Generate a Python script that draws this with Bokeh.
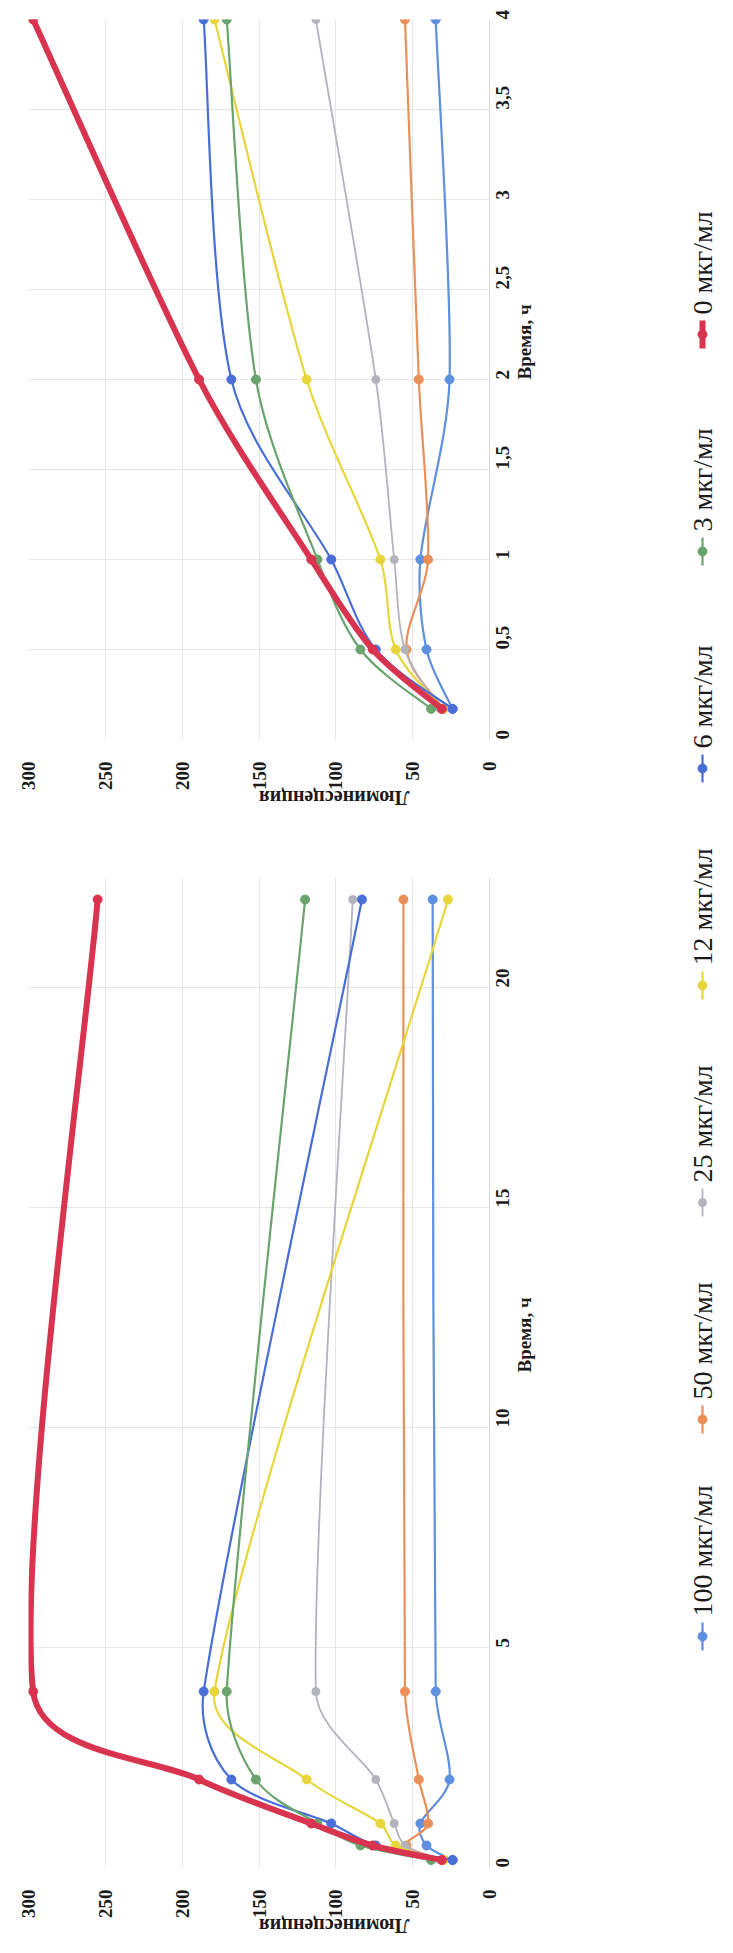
import math

from bokeh.core.properties import value
from bokeh.embed import file_html
from bokeh.layouts import column, row
from bokeh.models import ColumnDataSource, CustomJSTickFormatter, FixedTicker, Range1d
from bokeh.plotting import figure
from bokeh.resources import INLINE

# Sampling times, h
times = [0.17, 0.5, 1, 2, 4, 22]

# Luminescence for each drug concentration
lum_0 = [31, 76, 116, 189, 297, 255]
lum_3 = [38, 84, 112, 152, 171, 120]
lum_6 = [24, 74, 103, 168, 186, 83]
lum_12 = [30, 61, 71, 119, 179, 27]
lum_25 = [32, 55, 62, 74, 113, 89]
lum_50 = [30, 54, 40, 46, 55, 56]
lum_100 = [24, 41, 45, 26, 35, 37]

series_names = ["100 мкг/мл", "50 мкг/мл", "25 мкг/мл", "12 мкг/мл",
                "6 мкг/мл", "3 мкг/мл", "0 мкг/мл"]
series_values = [lum_100, lum_50, lum_25, lum_12, lum_6, lum_3, lum_0]

lum_ticks = [0, 50, 100, 150, 200, 250, 300]
time_ticks_short = [0, 0.5, 1, 1.5, 2, 2.5, 3, 3.5, 4]
time_ticks_long = [0, 5, 10, 15, 20]

# Styling
colors = ["#5e8fe0", "#ea8f57", "#b3b3bb", "#e6d63c", "#4a6ed8", "#6aa46d", "#d8334f"]
widths = [2.2, 2.2, 1.8, 2.2, 2.2, 2.2, 6.0]
marker_sizes = [9, 9, 8, 9, 9, 9, 9]
SERIF = "Liberation Serif"
INK = "#1b1b1b"
GRID = "#e6e6e6"
LUM_MAX = 300
CHART_W = 600
BORDER_L = 28
BORDER_R = 111


def bezier_segments(pts, kx, ky):
    """Smooth curve through pts as cubic Bezier pieces (Catmull-Rom handles,
    each handle kept within a third of its neighbouring chord on screen)."""
    n = len(pts)

    def plen(dx, dy):
        return math.hypot(dx * kx, dy * ky)

    def handle(i, j, tx, ty):
        # handle at point i pointing toward neighbour j
        hx, hy = tx / 6, ty / 6
        chord = plen(pts[j][0] - pts[i][0], pts[j][1] - pts[i][1])
        h = plen(hx, hy)
        if h > chord / 3 and h > 0:
            f = chord / 3 / h
            hx, hy = hx * f, hy * f
        return hx, hy

    c_in = [None] * n
    c_out = [None] * n
    for i in range(n):
        if i == 0:
            tx, ty = pts[1][0] - pts[0][0], pts[1][1] - pts[0][1]
        elif i == n - 1:
            tx, ty = pts[i][0] - pts[i - 1][0], pts[i][1] - pts[i - 1][1]
        else:
            tx, ty = pts[i + 1][0] - pts[i - 1][0], pts[i + 1][1] - pts[i - 1][1]
        if i < n - 1:
            hx, hy = handle(i, i + 1, tx, ty)
            c_out[i] = (pts[i][0] + hx, pts[i][1] + hy)
        if i > 0:
            hx, hy = handle(i, i - 1, tx, ty)
            c_in[i] = (pts[i][0] - hx, pts[i][1] - hy)
    seg = dict(x0=[], y0=[], x1=[], y1=[], cx0=[], cy0=[], cx1=[], cy1=[])
    for i in range(n - 1):
        seg["x0"].append(pts[i][0]); seg["y0"].append(pts[i][1])
        seg["x1"].append(pts[i + 1][0]); seg["y1"].append(pts[i + 1][1])
        seg["cx0"].append(c_out[i][0]); seg["cy0"].append(c_out[i][1])
        seg["cx1"].append(c_in[i + 1][0]); seg["cy1"].append(c_in[i + 1][1])
    return seg


def style_axis(ax, standoff):
    ax.major_label_orientation = math.pi / 2
    ax.major_tick_out = 0
    ax.major_tick_in = 0
    ax.minor_tick_out = 0
    ax.minor_tick_in = 0
    ax.major_label_standoff = standoff
    ax.major_label_text_font = SERIF
    ax.major_label_text_font_style = "bold"
    ax.major_label_text_font_size = "19px"
    ax.major_label_text_color = INK
    ax.axis_label_text_font = SERIF
    ax.axis_label_text_font_style = "bold"
    ax.axis_label_text_color = INK


def make_chart(height, border_top, border_bottom, t_end, t_ticks, t_limit):
    frame_w = CHART_W - BORDER_L - BORDER_R
    frame_h = height - border_top - border_bottom
    kx = frame_w / LUM_MAX
    ky = frame_h / t_end

    p = figure(width=CHART_W, height=height,
               x_range=Range1d(LUM_MAX, 0), y_range=Range1d(0, t_end),
               y_axis_location="right", x_axis_location="below",
               output_backend="svg", toolbar_location=None,
               min_border_left=BORDER_L, min_border_right=BORDER_R,
               min_border_top=border_top, min_border_bottom=border_bottom)
    p.outline_line_color = None
    p.background_fill_color = "white"
    p.border_fill_color = "white"

    for vals, col, w, ms in zip(series_values, colors, widths, marker_sizes):
        ts = [t for t in times if t <= t_limit]
        vs = [v for t, v in zip(times, vals) if t <= t_limit]
        pts = list(zip(vs, ts))
        src = ColumnDataSource(bezier_segments(pts, kx, ky))
        p.bezier(x0="x0", y0="y0", x1="x1", y1="y1", cx0="cx0", cy0="cy0",
                 cx1="cx1", cy1="cy1", source=src, line_color=col,
                 line_width=w, line_cap="round")
        p.scatter(x=vs, y=ts, size=ms, fill_color=col, line_color=col)

    xa = p.xaxis[0]
    xa.ticker = FixedTicker(ticks=lum_ticks)
    xa.axis_line_color = None
    style_axis(xa, 22)
    xa.axis_label = "Люминесценция"
    xa.axis_label_text_font_size = "20px"
    xa.axis_label_standoff = 5
    try:
        xa.axis_label_orientation = math.pi
    except AttributeError:
        pass

    ya = p.yaxis[0]
    ya.ticker = FixedTicker(ticks=t_ticks)
    ya.formatter = CustomJSTickFormatter(code="return tick.toString().replace('.', ',');")
    ya.axis_line_color = "#d9d9d9"
    style_axis(ya, 13)
    ya.axis_label = "Время, ч"
    ya.axis_label_text_font_size = "19px"
    ya.axis_label_standoff = 6
    try:
        ya.axis_label_orientation = math.pi / 2
    except AttributeError:
        pass

    p.xgrid.grid_line_color = GRID
    p.ygrid.grid_line_color = GRID
    return p


upper = make_chart(840, 19, 101, 4, time_ticks_short, 4)
lower = make_chart(1113, 37, 86, 22.5, time_ticks_long, 22)

# Legend column: entries stacked from "0 мкг/мл" at the top down to "100 мкг/мл"
LEG_W, LEG_H = 733 - CHART_W, 1953
leg = figure(width=LEG_W, height=LEG_H, x_range=Range1d(0, LEG_W), y_range=Range1d(0, LEG_H),
             output_backend="svg", toolbar_location=None, min_border=0)
leg.axis.visible = False
leg.grid.visible = False
leg.outline_line_color = None

leg_x = 102
first_y = LEG_H - 334
step = 217
for k, idx in enumerate(reversed(range(len(series_names)))):
    y = first_y - step * k
    leg.segment(x0=[leg_x], y0=[y - 14], x1=[leg_x], y1=[y + 14],
                line_color=colors[idx], line_width=widths[idx])
    leg.scatter(x=[leg_x], y=[y], size=marker_sizes[idx],
                fill_color=colors[idx], line_color=colors[idx])
    leg.text(x=[leg_x], y=[y + 20], text=[series_names[idx]], angle=math.pi / 2,
             text_align="left", text_baseline="middle",
             text_font=value(SERIF), text_font_size="28px", text_color=INK)

layout = row(column(upper, lower), leg)
open("out.html", "w").write(file_html(layout, INLINE))
